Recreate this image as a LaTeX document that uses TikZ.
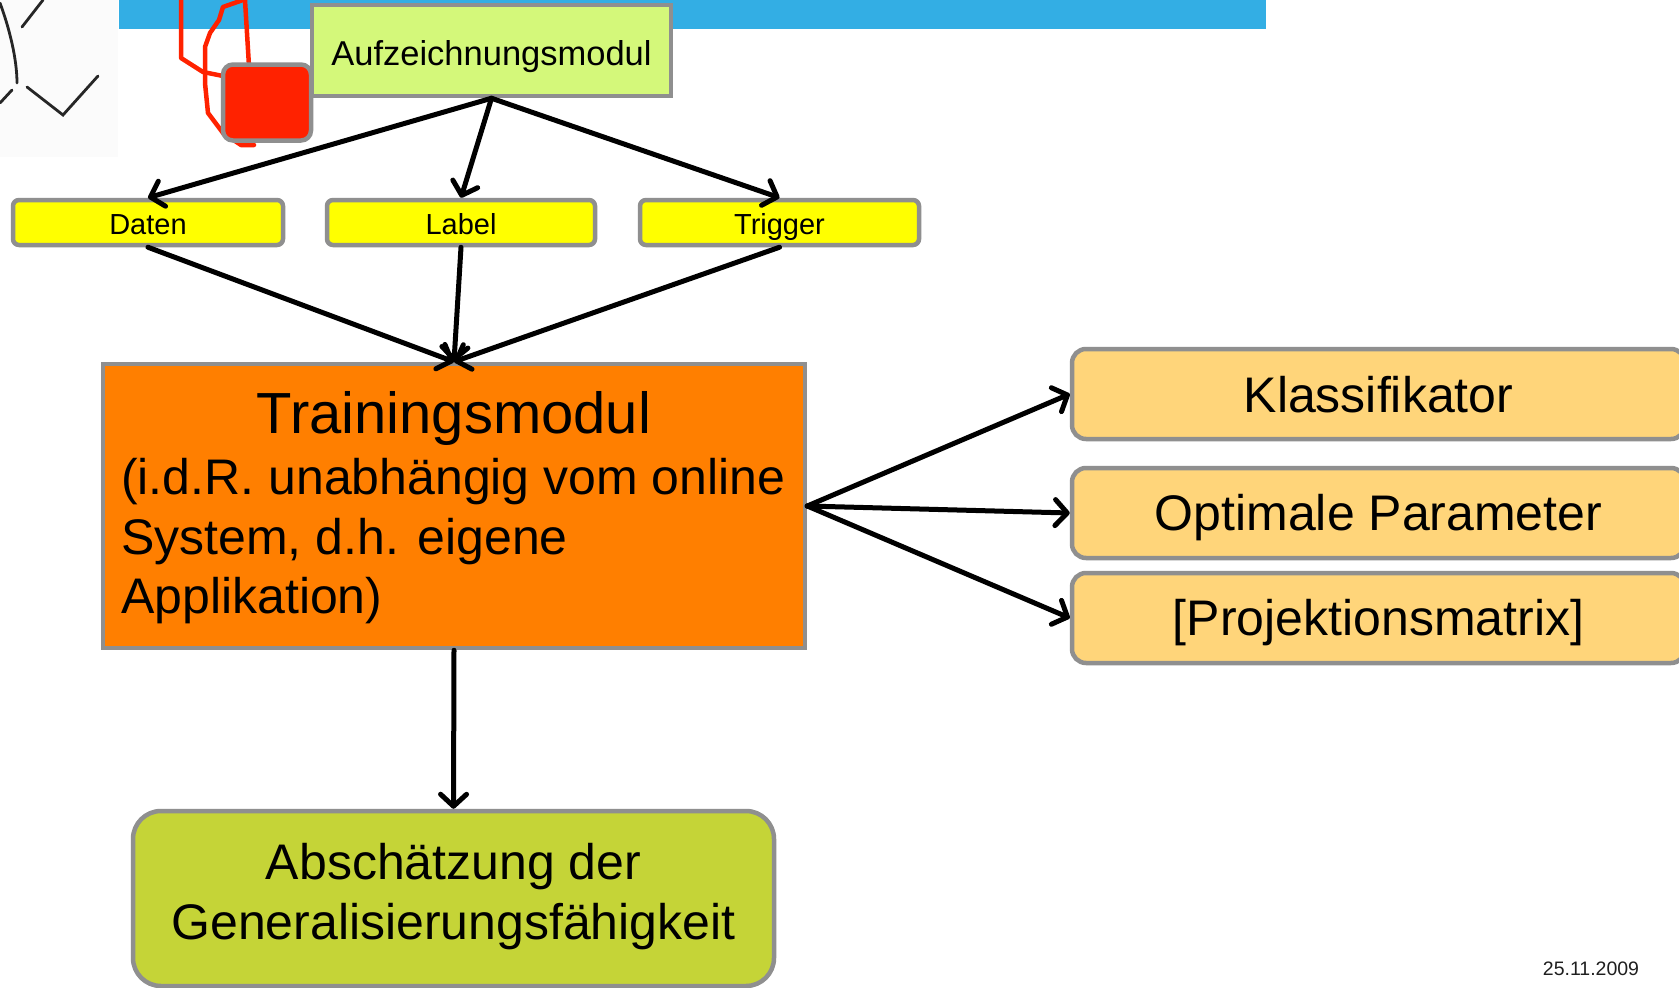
\documentclass[tikz,border=0pt]{standalone}
\usepackage{fontspec}
\setmainfont{Liberation Sans}
\usetikzlibrary{arrows.meta}
\definecolor{barblue}{HTML}{33AEE4}
\definecolor{aufzgreen}{HTML}{D4F87A}
\definecolor{boxyellow}{HTML}{FFFF00}
\definecolor{trainorange}{HTML}{FF7F00}
\definecolor{resultorange}{HTML}{FFD57A}
\definecolor{olivegreen}{HTML}{C5D437}
\definecolor{bordergray}{HTML}{8F8F8F}
\definecolor{penred}{HTML}{FF2200}
\definecolor{sketchbg}{HTML}{FBFBFB}
\newcommand\fsz[1]{\fontsize{#1}{#1}\selectfont}
\begin{document}
\begin{tikzpicture}[x=1pt,y=-1pt,
  box/.style={draw=bordergray, line width=4.5pt, inner sep=0pt, outer sep=2.25pt},
  txt/.style={inner sep=0pt, anchor=base, text=black},
  arr/.style={draw=black, line width=5pt, line cap=round, -{Straight Barb[length=12pt,width=26pt,round]}},
  pen/.style={draw=penred, line width=4.5pt, line cap=round, line join=round},
  sketch/.style={draw=black!85, line width=2.8pt, line cap=round}]
\useasboundingbox (0,0) rectangle (1679,988);
\fill[white] (0,0) rectangle (1679,988);
% sketch in top-left corner
\fill[sketchbg] (0,0) rectangle (118,157);
\draw[sketch] (43,0) -- (22,27);
\draw[sketch] (0,3) .. controls (10,30) and (17,60) .. (17,83);
\draw[sketch] (0,103) -- (12,90);
\draw[sketch] (27,87) -- (63,115) -- (98,76);
% blue bar
\fill[barblue] (119,0) rectangle (1266,29);
% red pen strokes
\draw[pen] (181,0) -- (181,58) -- (203,72) -- (223,76);
\draw[pen] (243,0) -- (223,7) -- (219,20) -- (210,33) -- (205,47) -- (205,83) -- (208,113) -- (223,133) -- (241,145) -- (254,145);
\draw[pen] (245,0) -- (249,66);
% boxes
\node[box, fill=aufzgreen, minimum width=359pt, minimum height=91pt] (aufz) at (491.5,50.5) {};
\node[box, fill=penred, rounded corners=10pt, minimum width=88pt, minimum height=76pt] (redsq) at (267,102.5) {};
\node[box, fill=boxyellow, rounded corners=6pt, minimum width=270pt, minimum height=45pt] (daten) at (148,222.5) {};
\node[box, fill=boxyellow, rounded corners=6pt, minimum width=268pt, minimum height=45pt] (label) at (461,222.5) {};
\node[box, fill=boxyellow, rounded corners=6pt, minimum width=279pt, minimum height=45pt] (trigger) at (779.5,222.5) {};
\node[box, fill=trainorange, minimum width=702pt, minimum height=284pt] (train) at (454,506) {};
\node[box, fill=resultorange, rounded corners=14pt, minimum width=613pt, minimum height=90pt] (klass) at (1378.5,394) {};
\node[box, fill=resultorange, rounded corners=14pt, minimum width=613pt, minimum height=90pt] (opt) at (1378.5,513) {};
\node[box, fill=resultorange, rounded corners=14pt, minimum width=613pt, minimum height=90pt] (proj) at (1378.5,618) {};
\node[box, fill=olivegreen, rounded corners=28pt, minimum width=641pt, minimum height=175pt] (absch) at (453.5,898.5) {};
% texts
\node[txt, font=\fsz{34.5}] (aufzT) at (491.5,65) {Aufzeichnungsmodul};
\node[txt, font=\fsz{29}] (datenT) at (148,234) {Daten};
\node[txt, font=\fsz{29}] (labelT) at (461,234) {Label};
\node[txt, font=\fsz{29}] (triggerT) at (779.5,234) {Trigger};
\node[txt, font=\fsz{58}] (trainT) at (454,433) {Trainingsmodul};
\node[txt, font=\fsz{50}, anchor=base west] (trainA) at (121,494) {(i.d.R. unabhängig vom online};
\node[txt, font=\fsz{50}, anchor=base west] (trainB) at (121,554) {System, d.h. eigene};
\node[txt, font=\fsz{50}, anchor=base west] (trainC) at (121,613) {Applikation)};
\node[txt, font=\fsz{50}] (klassT) at (1378.5,412) {Klassifikator};
\node[txt, font=\fsz{50}] (optT) at (1378.5,530) {Optimale Parameter};
\node[txt, font=\fsz{50}] (projT) at (1378.5,635) {[Projektionsmatrix]};
\node[txt, font=\fsz{50}] (abschA) at (453.5,879) {Abschätzung der};
\node[txt, font=\fsz{50}] (abschB) at (453.5,939) {Generalisierungsfähigkeit};
\node[txt, font=\fsz{19.5}, text=black!88] (date) at (1591,975) {25.11.2009};
% connectors
\draw[arr] (aufz.south) -- (daten.north);
\draw[arr] (aufz.south) -- (label.north);
\draw[arr] (aufz.south) -- (trigger.north);
\draw[arr] (daten.south) -- (train.north);
\draw[arr] (label.south) -- (train.north);
\draw[arr] (trigger.south) -- (train.north);
\draw[arr] (train.east) -- (klass.west);
\draw[arr] (train.east) -- (opt.west);
\draw[arr] (train.east) -- (proj.west);
\draw[arr] (train.south) -- (absch.north);
\end{tikzpicture}
\end{document}
